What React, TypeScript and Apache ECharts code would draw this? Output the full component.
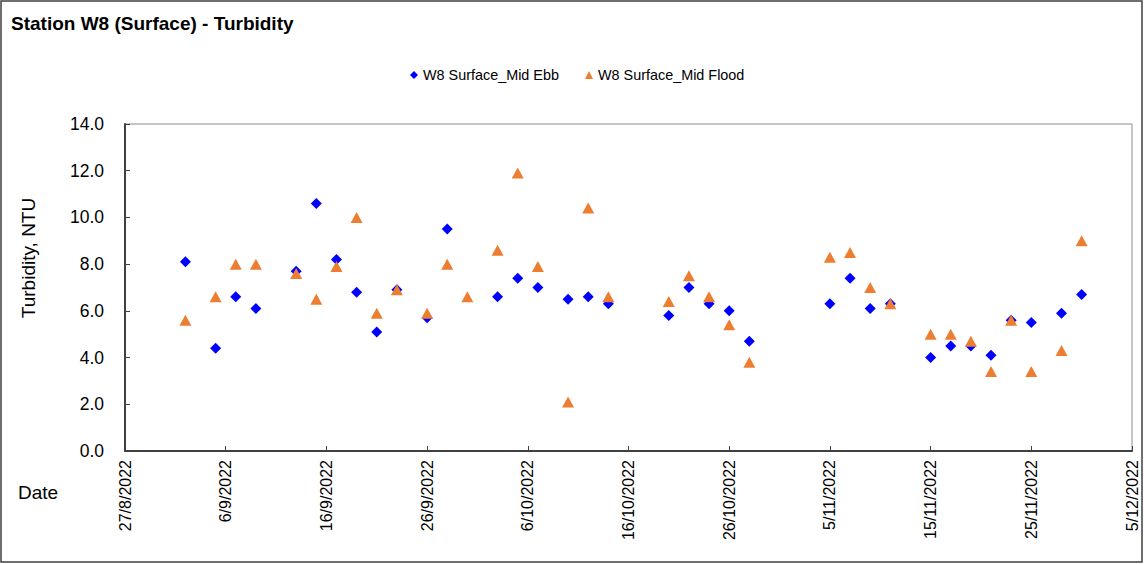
import React, { useEffect, useRef } from "react";
import * as echarts from "echarts";

const ebbDates = [
  "2022-09-02", "2022-09-05", "2022-09-07", "2022-09-09", "2022-09-13", "2022-09-15",
  "2022-09-17", "2022-09-19", "2022-09-21", "2022-09-23", "2022-09-26", "2022-09-28",
  "2022-10-03", "2022-10-05", "2022-10-07", "2022-10-10", "2022-10-12", "2022-10-14",
  "2022-10-20", "2022-10-22", "2022-10-24", "2022-10-26", "2022-10-28",
  "2022-11-05", "2022-11-07", "2022-11-09", "2022-11-11", "2022-11-15", "2022-11-17",
  "2022-11-19", "2022-11-21", "2022-11-23", "2022-11-25", "2022-11-28", "2022-11-30",
];
const ebbValues = [
  8.1, 4.4, 6.6, 6.1, 7.7, 10.6, 8.2, 6.8, 5.1, 6.9, 5.7, 9.5,
  6.6, 7.4, 7.0, 6.5, 6.6, 6.3, 5.8, 7.0, 6.3, 6.0, 4.7,
  6.3, 7.4, 6.1, 6.3, 4.0, 4.5, 4.5, 4.1, 5.6, 5.5, 5.9, 6.7,
];

const floodDates = [
  "2022-09-02", "2022-09-05", "2022-09-07", "2022-09-09", "2022-09-13", "2022-09-15",
  "2022-09-17", "2022-09-19", "2022-09-21", "2022-09-23", "2022-09-26", "2022-09-28",
  "2022-09-30",
  "2022-10-03", "2022-10-05", "2022-10-07", "2022-10-10", "2022-10-12", "2022-10-14",
  "2022-10-20", "2022-10-22", "2022-10-24", "2022-10-26", "2022-10-28",
  "2022-11-05", "2022-11-07", "2022-11-09", "2022-11-11", "2022-11-15", "2022-11-17",
  "2022-11-19", "2022-11-21", "2022-11-23", "2022-11-25", "2022-11-28", "2022-11-30",
];
const floodValues = [
  5.6, 6.6, 8.0, 8.0, 7.6, 6.5, 7.9, 10.0, 5.9, 6.9, 5.9, 8.0, 6.6,
  8.6, 11.9, 7.9, 2.1, 10.4, 6.6, 6.4, 7.5, 6.6, 5.4, 3.8,
  8.3, 8.5, 7.0, 6.3, 5.0, 5.0, 4.7, 3.4, 5.6, 3.4, 4.3, 9.0,
];

const axisStartDate = "2022-08-27";
const axisEndDate = "2022-12-05";
const tickDays = 10;
const yTicks = { min: 0, max: 14, interval: 2 };

const DAY = 86400000;
const toMs = (s: string) => {
  const [y, m, d] = s.split("-").map(Number);
  return Date.UTC(y, m - 1, d);
};
const startMs = toMs(axisStartDate);
const dayOffset = (s: string) => Math.round((toMs(s) - startMs) / DAY);
const fmtDay = (v: number) => {
  const dt = new Date(startMs + v * DAY);
  return `${dt.getUTCDate()}/${dt.getUTCMonth() + 1}/${dt.getUTCFullYear()}`;
};

const FONT = "'Liberation Sans', Arial, sans-serif";

export default function App() {
  const ref = useRef<HTMLDivElement>(null);
  useEffect(() => {
    if (!ref.current) return;
    const chart = echarts.init(ref.current, undefined, { renderer: "svg" });
    const ebb = ebbDates.map((d, i) => [dayOffset(d), ebbValues[i]]);
    const flood = floodDates.map((d, i) => [dayOffset(d), floodValues[i]]);
    chart.setOption({
      animation: false,
      backgroundColor: "#ffffff",
      textStyle: { fontFamily: FONT },
      grid: {
        left: 125,
        right: 12,
        top: 124,
        bottom: 113,
        show: true,
        borderColor: "#8a8a8a",
        borderWidth: 1,
        backgroundColor: "transparent",
      },
      legend: {
        top: 63,
        left: 405,
        itemWidth: 8,
        itemHeight: 8,
        itemGap: 26,
        textStyle: { fontSize: 14.4, color: "#000", fontFamily: FONT },
        data: [
          { name: "W8 Surface_Mid Ebb", icon: "diamond" },
          { name: "W8 Surface_Mid Flood", icon: "triangle" },
        ],
      },
      xAxis: {
        type: "value",
        min: 0,
        max: dayOffset(axisEndDate),
        interval: tickDays,
        splitLine: { show: false },
        axisLine: { show: true, onZero: false, lineStyle: { color: "#404040", width: 2 } },
        axisTick: { show: true, inside: true, length: 5, lineStyle: { color: "#404040" } },
        axisLabel: {
          rotate: 90,
          margin: 9,
          fontSize: 16,
          color: "#000",
          fontFamily: FONT,
          formatter: (v: number) => fmtDay(v),
        },
      },
      yAxis: {
        type: "value",
        min: yTicks.min,
        max: yTicks.max,
        interval: yTicks.interval,
        splitLine: { show: false },
        axisLine: { show: true, lineStyle: { color: "#404040", width: 2 } },
        axisTick: { show: true, inside: true, length: 5, lineStyle: { color: "#404040" } },
        axisLabel: {
          margin: 21,
          fontSize: 17.5,
          color: "#000",
          fontFamily: FONT,
          formatter: (v: number) => v.toFixed(1),
        },
      },
      graphic: [
        {
          type: "rect",
          shape: { x: 1, y: 1, width: 1141, height: 561 },
          style: { fill: "none", stroke: "#404040", lineWidth: 1.5 },
          silent: true,
        },
        {
          type: "text",
          x: 11,
          y: 23,
          style: {
            text: "Station W8 (Surface) - Turbidity",
            font: `bold 19px ${FONT}`,
            fill: "#000",
            verticalAlign: "middle",
          },
        },
        {
          type: "text",
          x: 28,
          y: 258,
          rotation: Math.PI / 2,
          style: {
            text: "Turbidity, NTU",
            font: `19px ${FONT}`,
            fill: "#000",
            align: "center",
            verticalAlign: "middle",
          },
        },
        {
          type: "text",
          x: 18,
          y: 492,
          style: { text: "Date", font: `19px ${FONT}`, fill: "#000", verticalAlign: "middle" },
        },
      ],
      series: [
        {
          name: "W8 Surface_Mid Ebb",
          type: "scatter",
          symbol: "diamond",
          symbolSize: 11,
          itemStyle: { color: "#0000FF", opacity: 1 },
          data: ebb,
        },
        {
          name: "W8 Surface_Mid Flood",
          type: "scatter",
          symbol: "triangle",
          symbolSize: [12, 11],
          itemStyle: { color: "#ED7D31", opacity: 1 },
          data: flood,
        },
      ],
    });
    return () => chart.dispose();
  }, []);
  return (
    <div
      ref={ref}
      style={{ position: "absolute", left: 0, top: 0, width: 1144, height: 564 }}
    />
  );
}
